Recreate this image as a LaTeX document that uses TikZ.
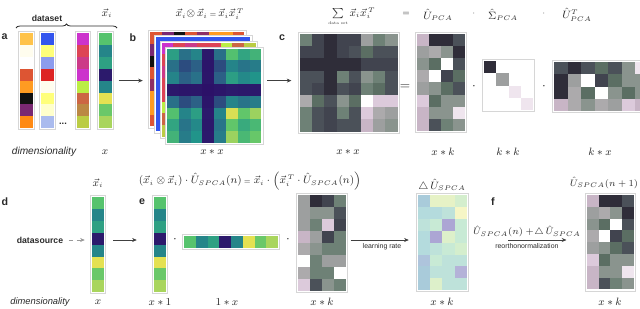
\documentclass[tikz,border=0pt]{standalone}
\usepackage{amsmath}
\usepackage{fontspec}
\setsansfont{Liberation Sans}
\usepackage{tikz}
\usetikzlibrary{arrows.meta,positioning,fit,calc,decorations.pathreplacing}

% grey-green-pink map
\definecolor{K1}{HTML}{2F2D39}
\definecolor{K2}{HTML}{41444F}
\definecolor{K3}{HTML}{4B5159}
\definecolor{G1}{HTML}{5B6E63}
\definecolor{G2}{HTML}{6E8176}
\definecolor{G3}{HTML}{8A948E}
\definecolor{GR}{HTML}{9D9F9F}
\definecolor{LG}{HTML}{ACAAAC}
\definecolor{P1}{HTML}{C8B5C6}
\definecolor{P2}{HTML}{DCCADB}
\definecolor{P3}{HTML}{EFE5EE}
\definecolor{WH}{HTML}{FFFFFF}
% delta map
\definecolor{dB}{HTML}{A9CBDA}
\definecolor{dB2}{HTML}{AEC4DC}
\definecolor{dT}{HTML}{B4DBDD}
\definecolor{dT2}{HTML}{BEE2DA}
\definecolor{dM}{HTML}{C8EAD5}
\definecolor{dM2}{HTML}{D4EECD}
\definecolor{dY}{HTML}{E6F2C6}
\definecolor{dY2}{HTML}{F6F6C6}
\definecolor{dY3}{HTML}{DDF0CA}
\definecolor{dP}{HTML}{ACA6D4}
\definecolor{dP2}{HTML}{B4B2D8}
% dataset columns
\definecolor{aYo}{HTML}{FFC34A}
\definecolor{aCr}{HTML}{FFFDEE}
\definecolor{aWh}{HTML}{FFFFFF}
\definecolor{aRo}{HTML}{DD5533}
\definecolor{aOr}{HTML}{FF9B22}
\definecolor{aBk}{HTML}{111111}
\definecolor{aPu}{HTML}{7A2872}
\definecolor{aOd}{HTML}{FF8A14}
\definecolor{lPk}{HTML}{8E2F65}
\definecolor{bBl}{HTML}{3355EE}
\definecolor{bYe}{HTML}{FFFF7A}
\definecolor{bLb}{HTML}{8C9CEE}
\definecolor{bRe}{HTML}{DD2424}
\definecolor{bPy}{HTML}{FFFFCC}
\definecolor{bPb}{HTML}{AABBEE}
\definecolor{cMa}{HTML}{CC33CC}
\definecolor{cRe}{HTML}{DD4455}
\definecolor{cPk}{HTML}{CC3A88}
\definecolor{cLi}{HTML}{BBEE44}
\definecolor{cBr}{HTML}{CC6644}
\definecolor{cTa}{HTML}{BB8844}
\definecolor{cOl}{HTML}{BBCC44}
% viridis stops
\definecolor{vir0}{HTML}{2C1068}
\definecolor{vir1}{HTML}{2C6488}
\definecolor{vir2}{HTML}{21958A}
\definecolor{vir3}{HTML}{58C46C}
\definecolor{vir4}{HTML}{F0E450}
\definecolor{txt}{HTML}{2A2A2A}

\def\vlist{0.74,0.42,0.56,0.03,0.42,0.98,0.78,0.88}

\newcommand{\setvir}[1]{%
  \pgfmathsetmacro\vv{max(min(#1,1),0)*4}%
  \pgfmathtruncatemacro\vseg{min(floor(\vv),3)}%
  \pgfmathtruncatemacro\vpct{100-100*(\vv-\vseg)}%
  \ifcase\vseg\relax \colorlet{cc}{vir0!\vpct!vir1}%
  \or \colorlet{cc}{vir1!\vpct!vir2}%
  \or \colorlet{cc}{vir2!\vpct!vir3}%
  \or \colorlet{cc}{vir3!\vpct!vir4}%
  \fi}

% name, x, y, columns, rows, cell w, cell h, colours
\newcommand{\pixmat}[8]{%
  \coordinate (#1-nw) at ({#2-1.5},{#3-1.5});
  \coordinate (#1-se) at ({#2+#4*#6+1.5},{#3+#5*#7+1.5});
  \node[matframe, fit=(#1-nw)(#1-se)] (#1) {};
  \foreach \cl [count=\k from 0] in {#8} {
    \pgfmathtruncatemacro\mr{div(\k,#4)}
    \pgfmathtruncatemacro\mc{mod(\k,#4)}
    \fill[fill=\cl] ({#2+\mc*#6},{#3+\mr*#7}) rectangle ++(#6,#7);
  }}

% name, x, y, cell w, cell h
\newcommand{\vircol}[5]{%
  \coordinate (#1-nw) at ({#2-1.5},{#3-1.5});
  \coordinate (#1-se) at ({#2+#4+1.5},{#3+8*#5+1.5});
  \node[matframe, fit=(#1-nw)(#1-se)] (#1) {};
  \foreach \v [count=\k from 0] in \vlist {
    \setvir{\v}
    \fill[fill=cc] (#2,{#3+\k*#5}) rectangle ++(#4,#5);
  }}

% name, x, y
\newcommand{\layerframe}[3]{%
  \coordinate (#1-nw) at ({#2-1.5},{#3-1.5});
  \coordinate (#1-se) at ({#2+8*11.8+1.5},{#3+8*11.8+1.5});
  \node[matframe, fit=(#1-nw)(#1-se)] (#1) {};}

% name, x, y, colours of first row
\newcommand{\backlayer}[4]{%
  \layerframe{#1}{#2}{#3}
  \foreach \cl [count=\k from 0] in {#4} {
    \fill[fill=\cl] ({#2+\k*11.8},#3) rectangle ++(11.8,11.8);
    \fill[fill=\cl] (#2,{#3+\k*11.8}) rectangle ++(11.8,11.8);
  }}

\begin{document}
\begin{tikzpicture}[
x=0.75pt, y=-0.75pt,
every node/.style={inner sep=1pt, text=txt},
matframe/.style={draw=black!16, fill=white, line width=0.6pt, inner sep=0pt},
panel/.style={font=\sffamily\bfseries\fontsize{8}{9}\selectfont},
dimtxt/.style={font=\sffamily\itshape\fontsize{7.6}{9}\selectfont},
dimtxtb/.style={font=\sffamily\itshape\fontsize{7}{8}\selectfont},
bold/.style={font=\sffamily\bfseries\fontsize{6.5}{8}\selectfont},
tiny/.style={font=\sffamily\fontsize{5.2}{6}\selectfont},
eq/.style={font=\fontsize{7.6}{9}\selectfont},
eqs/.style={font=\fontsize{6.8}{8}\selectfont},
dimeq/.style={font=\fontsize{8}{9}\selectfont},
op/.style={font=\fontsize{10}{11}\selectfont},
sm/.style={font=\fontsize{6}{7}\selectfont},
arr/.style={-{Stealth[length=3.5pt,width=3pt]}, line width=0.5pt, draw=black!75},
dasharr/.style={arr, dashed, draw=black!40}
]
\useasboundingbox (0,0) rectangle (640,308);
\clip (0,0) rectangle (640,308);

% a
\node[panel, anchor=west] (la) at (0,37) {a};
\pixmat{colA1}{20}{33}{1}{8}{13}{11.9}{aYo,aCr,aWh,aRo,aOr,aBk,aPu,aOd}
\pixmat{colA2}{41}{33}{1}{8}{13}{11.9}{bBl,bYe,bLb,bRe,aCr,bYe,bPy,bPb}
\pixmat{colA3}{77}{33}{1}{8}{12}{11.9}{cMa,cRe,cPk,cMa,cLi,cBr,cTa,cOl}
\vircol{colA4}{99}{33}{12.5}{11.9}
\node[font=\sffamily\bfseries\fontsize{7}{8}\selectfont] (dots) at (63,124) {...};
\coordinate (brL) at (16,28);
\coordinate (brR) at (117,28);
\draw[decorate, decoration={brace, amplitude=3pt}, line width=0.6pt, draw=txt] (brL) -- (brR);
\node[bold] (dset) at (47,18) {dataset};
\node[eq] (xa) at (107,13) {$\vec{x}_i$};
\node[dimtxt] (dimA) at (44,152) {dimensionality};
\node[dimeq] (dA) at (105,152) {$x$};

% b
\node[panel] (lb) at (133,38) {b};
\backlayer{layB1}{150}{32}{aRo,aPu,aBk,aRo,lPk,aOr,aOr,aRo}
\backlayer{layB2}{156}{37}{bBl,bBl,bBl,bBl,bBl,bBl,bBl,bBl}
\backlayer{layB3}{161.5}{42.5}{cMa,cRe,cPk,cRe,cRe,cLi,cBr,cOl}
\layerframe{layB4}{167}{48.5}
\foreach \vi [count=\i from 0] in \vlist {
  \foreach \vj [count=\j from 0] in \vlist {
    \setvir{\vi*\vj}
    \fill[fill=cc] ({167+\j*11.8},{48.5+\i*11.8}) rectangle ++(11.8,11.8);
  }}
\node[eq] (fb) at (210,14) {$\vec{x}_i{\otimes}\,\vec{x}_i\,{\scriptscriptstyle=}\,\vec{x}_i\vec{x}_i^{\,T}$};
\node[dimeq] (dB) at (212,152) {$x \ast x$};
\draw[arr, shorten <=4pt, shorten >=4pt] (colA4.east) -- (colA4.east -| layB1.west);

% c
\node[panel] (lc) at (282,38) {c};
\pixmat{matC}{300}{34}{8}{8}{12.2}{12.2}{
  G2,K2,K1,K2,K2,GR,G2,G3,
  K2,K2,K1,K2,K3,G1,K3,K3,
  K1,K1,K1,K1,K1,K2,K2,K2,
  K3,K3,K1,G2,K3,G3,G2,K3,
  K3,K2,K1,K3,K2,G2,G1,K3,
  LG,G1,K3,G3,G1,WH,P2,P2,
  G2,K3,K2,G2,K3,P2,LG,GR,
  G2,K3,K2,K3,K3,P1,GR,G3}
\draw[arr, shorten <=3pt, shorten >=5pt] (layB4.east |- colA4.east) -- (matC.west |- colA4.east);
\node[op] (eqC) at (405,87) {$=$};
\pixmat{matU}{417}{34}{4}{8}{12}{12.1}{
  P1,K1,K1,K3,
  GR,LG,G3,K1,
  G3,G1,WH,K3,
  LG,WH,K2,G1,
  GR,G3,G1,K3,
  P2,G1,G3,G3,
  P1,G3,G3,P3,
  P1,K3,G2,G3}
\node[op] (dotC1) at (474,87) {$\cdot$};
\pixmat{matS}{484}{61}{4}{4}{12.3}{12.3}{
  K1,WH,WH,WH,
  WH,GR,WH,WH,
  WH,WH,P3,WH,
  WH,WH,WH,P3}
\node[op] (dotC2) at (544,87) {$\cdot$};
\pixmat{matUT}{554}{62}{8}{4}{13.5}{12.3}{
  K3,K1,K3,G1,K3,G3,P3,GR,
  K1,GR,WH,K2,G1,G3,G3,G3,
  K1,LG,G1,WH,G3,G1,G3,G2,
  P1,LG,G3,LG,GR,P2,P1,P1}
\node[eq] (fsum) at (352,17) {$\sum\limits_{\text{\fontsize{3}{3}\selectfont data set}}\vec{x}_i\vec{x}_i^{\,T}$};
\node[sm] (eqT) at (406,14) {$=$};
\node[eq] (tU) at (438,15) {$\hat{U}_{PCA}$};
\node[sm] (dotT1) at (474,14) {$\cdot$};
\node[eq] (tS) at (503,15) {$\hat{\Sigma}_{PCA}$};
\node[sm] (dotT2) at (544,14) {$\cdot$};
\node[eq] (tUT) at (577,15) {$\hat{U}^{T}_{PCA}$};
\node[dimeq] (dC1) at (348,152) {$x \ast x$};
\node[dimeq] (dC2) at (443,152) {$x \ast k$};
\node[dimeq] (dC3) at (508,152) {$k \ast k$};
\node[dimeq] (dC4) at (600,152) {$k \ast x$};

% d
\node[panel, anchor=west] (ld) at (0,202) {d};
\node[bold] (ds) at (40,240) {datasource};
\vircol{vecD}{92}{197}{12}{11.9}
\node[eq] (xd) at (98,183) {$\vec{x}_i$};
\draw[dasharr, shorten <=3pt, shorten >=4pt] (ds.east) -- (ds.east -| vecD.west);
\node[dimtxtb] (dimD) at (40,302) {dimensionality};
\node[dimeq] (dD) at (98,302) {$x$};

% e
\node[panel] (le) at (142,202) {e};
\vircol{vecE}{154}{197}{12}{11.9}
\draw[arr, shorten <=5.5pt, shorten >=11.5pt] (vecD.east |- ds.east) -- (vecE.west |- ds.east);
\node[op] (dotE1) at (175,240) {$\cdot$};
\coordinate (rowE-nw) at (182.5,234.5);
\coordinate (rowE-se) at (279.5,249.5);
\node[matframe, fit=(rowE-nw)(rowE-se)] (rowE) {};
\foreach \v [count=\k from 0] in \vlist {
  \setvir{\v}
  \fill[fill=cc] ({184+\k*11.75},236) rectangle ++(11.75,12);
}
\node[op] (dotE2) at (288,240) {$\cdot$};
\pixmat{matE}{298}{195}{4}{8}{12}{12}{
  GR,K1,K2,G2,
  GR,G3,G3,K3,
  GR,G2,P2,K2,
  P1,GR,K2,G2,
  LG,G3,G2,G2,
  WH,G2,GR,GR,
  LG,G2,G2,WH,
  P2,K3,G3,G2}
\node[eq] (fe) at (250,181) {$(\vec{x}_i \otimes \vec{x}_i)\cdot \hat{U}_{SPCA}(n)\,{\scriptscriptstyle=}\;\vec{x}_i\cdot\Bigl(\vec{x}_i^{\,T}\cdot \hat{U}_{SPCA}(n)\Bigr)$};
\node[dimeq] (dE1) at (160,302) {$x \ast 1$};
\node[dimeq] (dE2) at (227,302) {$1 \ast x$};
\node[dimeq] (dE3) at (322,302) {$x \ast k$};

\pixmat{matDU}{418}{195}{4}{8}{12.2}{11.9}{
  dB,dY,dY,dM2,
  dT,dT,dT2,dY2,
  dT2,dM,dP,dM,
  dT,dP,dY3,dM,
  dT,dT2,dM,dM2,
  dB2,dM,dT2,dT2,
  dB,dT2,dT2,dP2,
  dB,dY3,dT2,dT2}
\draw[arr, shorten <=2pt, shorten >=5.5pt] (matE.east |- ds.east) -- node[below=1pt, tiny] (lr) {learning rate} (matDU.west |- ds.east);
\node[eq] (tDU) at (442,185) {$\triangle\,\hat{U}_{SPCA}$};
\node[dimeq] (dDU) at (442,302) {$x \ast k$};

% f
\node[panel] (lf) at (493,202) {f};
\pixmat{matF}{587}{195}{4}{8}{11.7}{11.8}{
  P1,K1,K1,K3,
  GR,LG,G3,K1,
  G3,G1,WH,K3,
  LG,WH,K2,G1,
  GR,G3,G1,K3,
  P2,G1,G3,G3,
  P1,G3,G3,P3,
  P1,K3,G2,G3}
\draw[arr, shorten <=29.5pt, shorten >=14pt] (matDU.east |- ds.east) -- node[above=1pt, eqs] (ff) {$\hat{U}_{SPCA}(n) +\!\triangle\,\hat{U}_{SPCA}$} node[below=1pt, tiny] (ro) {reorthonormalization} (matF.west |- ds.east);
\node[font=\fontsize{7.2}{8}\selectfont] (tF) at (604,183) {$\hat{U}_{SPCA}(n+1)$};
\node[dimeq] (dF) at (610,302) {$x \ast k$};
\end{tikzpicture}
\end{document}
